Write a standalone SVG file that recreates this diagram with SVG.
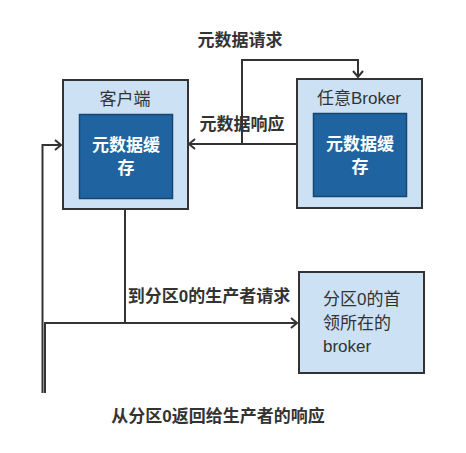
<svg xmlns="http://www.w3.org/2000/svg" width="466" height="453" viewBox="0 0 466 453">
<style>
.outer{fill:#cce1f4;stroke:#333;stroke-width:2}
.inner{fill:#1f64a0;stroke:#17466f;stroke-width:1.5}
.t{font-family:"Liberation Sans","Noto Sans CJK SC",sans-serif;font-size:17px;fill:#333}
.b{font-weight:bold}
.w{fill:#fff;font-weight:bold}
.c{fill:none;stroke:#333;stroke-width:2}
</style>
<defs>
<marker id="a" markerWidth="12" markerHeight="12" refX="9" refY="6" orient="auto" markerUnits="userSpaceOnUse">
<path d="M3,1 L9,6 L3,11" fill="none" stroke="#333" stroke-width="2"/>
</marker>
</defs>
<rect width="466" height="453" fill="#fff"/>
<g id="client">
<rect class="outer" x="63" y="80" width="125" height="129"/>
<text class="t" x="125" y="105" text-anchor="middle">客户端</text>
<rect class="inner" x="79.5" y="114.5" width="93" height="84"/>
<text class="t w" x="126" y="151" text-anchor="middle">元数据缓</text>
<text class="t w" x="126" y="174" text-anchor="middle">存</text>
</g>
<g id="broker">
<rect class="outer" x="297" y="79" width="125" height="129"/>
<text class="t" x="359" y="104" text-anchor="middle">任意Broker</text>
<rect class="inner" x="313.5" y="113.5" width="93" height="83"/>
<text class="t w" x="360" y="150" text-anchor="middle">元数据缓</text>
<text class="t w" x="360" y="173" text-anchor="middle">存</text>
</g>
<g id="partition">
<rect class="outer" x="299" y="272" width="125" height="101"/>
<text class="t" x="323" y="305">分区0的首</text>
<text class="t" x="323" y="329">领所在的</text>
<text class="t" x="323" y="352">broker</text>
</g>
<g id="labels">
<text class="t b" x="240" y="46" text-anchor="middle">元数据请求</text>
<text class="t b" x="242" y="130" text-anchor="middle">元数据响应</text>
<text class="t b" x="209" y="302" text-anchor="middle">到分区0的生产者请求</text>
<text class="t b" x="218" y="422" text-anchor="middle">从分区0返回给生产者的响应</text>
</g>
<g id="connectors">
<path class="c" d="M297,144 L189,144" marker-end="url(#a)"/>
<path class="c" d="M242,144 L242,60 L358,60 L358,77" marker-end="url(#a)"/>
<path class="c" d="M125,209 L125,323"/>
<path class="c" d="M45,393 L45,323 L297,323" marker-end="url(#a)"/>
<path class="c" d="M42.5,393 L42.5,145 L61,145" marker-end="url(#a)"/>
</g>
</svg>
